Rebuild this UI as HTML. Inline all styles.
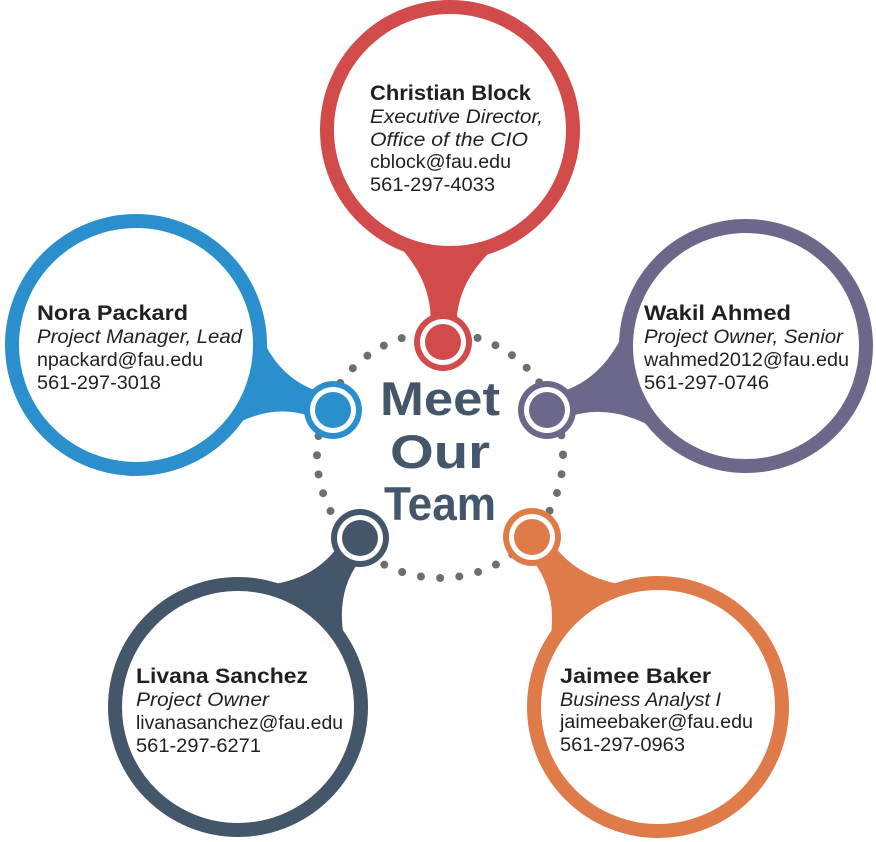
<!DOCTYPE html>
<html><head><meta charset="utf-8"><style>
html,body{margin:0;padding:0;background:#fff;}
svg{display:block;}
.n{font-family:"Liberation Sans",sans-serif;font-weight:bold;font-size:21px;fill:#231f20;}
.t{font-family:"Liberation Sans",sans-serif;font-style:italic;font-size:19px;fill:#231f20;}
.r{font-family:"Liberation Sans",sans-serif;font-size:19px;fill:#231f20;}
.m{font-family:"Liberation Sans",sans-serif;font-weight:bold;font-size:47px;fill:#44566a;}
</style></head><body>
<svg width="876" height="842" viewBox="0 0 876 842" xmlns="http://www.w3.org/2000/svg">
<circle cx="440" cy="455" r="123" fill="none" stroke="#6d6e71" stroke-width="8" stroke-linecap="round" stroke-dasharray="0 19.3"/>
<path d="M391.4,238.2 Q431.8,276.6 430.6,321.6 L456.6,322.4 Q457.8,277.4 501.4,241.8 Z" fill="#d04b4a"/>
<path d="M223.3,431.7 Q267.2,402 309.9,416.1 L318.1,391.3 Q275.4,377.3 257.7,327.1 Z" fill="#2a8fcc"/>
<path d="M626.4,326.6 Q604.9,377.7 562.1,391.5 L569.9,416.3 Q612.9,402.5 660,431.4 Z" fill="#6c6889"/>
<path d="M347,650 Q332.5,598.3 358.8,561.8 L337.8,546.6 Q311.5,583.1 257.8,585.6 Z" fill="#44566a"/>
<path d="M635.4,586.1 Q581.6,581.9 554.5,546.1 L533.7,561.8 Q560.9,597.7 547.8,652.5 Z" fill="#df7b48"/>
<circle cx="450" cy="130" r="123" fill="#fff" stroke="#d04b4a" stroke-width="14"/>
<circle cx="136" cy="345" r="124" fill="#fff" stroke="#2a8fcc" stroke-width="14"/>
<circle cx="746" cy="346" r="120" fill="#fff" stroke="#6c6889" stroke-width="14"/>
<circle cx="238" cy="707" r="123" fill="#fff" stroke="#44566a" stroke-width="14"/>
<circle cx="658" cy="707" r="124" fill="#fff" stroke="#df7b48" stroke-width="14"/>
<g><circle cx="443" cy="342" r="29" fill="#d04b4a"/><circle cx="443" cy="342" r="23" fill="#fff"/><circle cx="443" cy="342" r="18" fill="#d04b4a"/></g>
<g><circle cx="333" cy="410" r="29" fill="#2a8fcc"/><circle cx="333" cy="410" r="23" fill="#fff"/><circle cx="333" cy="410" r="18" fill="#2a8fcc"/></g>
<g><circle cx="547" cy="410" r="29" fill="#6c6889"/><circle cx="547" cy="410" r="23" fill="#fff"/><circle cx="547" cy="410" r="18" fill="#6c6889"/></g>
<g><circle cx="360" cy="538" r="29" fill="#44566a"/><circle cx="360" cy="538" r="23" fill="#fff"/><circle cx="360" cy="538" r="18" fill="#44566a"/></g>
<g><circle cx="532" cy="537" r="29" fill="#df7b48"/><circle cx="532" cy="537" r="23" fill="#fff"/><circle cx="532" cy="537" r="18" fill="#df7b48"/></g>
<text class="m" x="440" y="415" text-anchor="middle" textLength="120" lengthAdjust="spacingAndGlyphs">Meet</text>
<text class="m" x="440" y="468" text-anchor="middle" textLength="100" lengthAdjust="spacingAndGlyphs">Our</text>
<text class="m" x="440" y="520" text-anchor="middle" textLength="112" lengthAdjust="spacingAndGlyphs">Team</text>
<text class="n" x="370" y="100" textLength="161" lengthAdjust="spacingAndGlyphs">Christian Block</text>
<text class="t" x="370" y="123" textLength="173" lengthAdjust="spacingAndGlyphs">Executive Director,</text>
<text class="t" x="370" y="146" textLength="158" lengthAdjust="spacingAndGlyphs">Office of the CIO</text>
<text class="r" x="370" y="168" textLength="141" lengthAdjust="spacingAndGlyphs">cblock@fau.edu</text>
<text class="r" x="370" y="191" textLength="125" lengthAdjust="spacingAndGlyphs">561-297-4033</text>
<text class="n" x="37" y="320" textLength="151" lengthAdjust="spacingAndGlyphs">Nora Packard</text>
<text class="t" x="37" y="343" textLength="205" lengthAdjust="spacingAndGlyphs">Project Manager, Lead</text>
<text class="r" x="37" y="366" textLength="166" lengthAdjust="spacingAndGlyphs">npackard@fau.edu</text>
<text class="r" x="37" y="389" textLength="124" lengthAdjust="spacingAndGlyphs">561-297-3018</text>
<text class="n" x="644" y="320" textLength="147" lengthAdjust="spacingAndGlyphs">Wakil Ahmed</text>
<text class="t" x="644" y="343" textLength="199" lengthAdjust="spacingAndGlyphs">Project Owner, Senior</text>
<text class="r" x="644" y="366" textLength="205" lengthAdjust="spacingAndGlyphs">wahmed2012@fau.edu</text>
<text class="r" x="644" y="389" textLength="125" lengthAdjust="spacingAndGlyphs">561-297-0746</text>
<text class="n" x="136" y="683" textLength="172" lengthAdjust="spacingAndGlyphs">Livana Sanchez</text>
<text class="t" x="136" y="706" textLength="133" lengthAdjust="spacingAndGlyphs">Project Owner</text>
<text class="r" x="136" y="729" textLength="207" lengthAdjust="spacingAndGlyphs">livanasanchez@fau.edu</text>
<text class="r" x="136" y="752" textLength="125" lengthAdjust="spacingAndGlyphs">561-297-6271</text>
<text class="n" x="560" y="683" textLength="151" lengthAdjust="spacingAndGlyphs">Jaimee Baker</text>
<text class="t" x="560" y="706" textLength="161" lengthAdjust="spacingAndGlyphs">Business Analyst I</text>
<text class="r" x="560" y="728" textLength="193" lengthAdjust="spacingAndGlyphs">jaimeebaker@fau.edu</text>
<text class="r" x="560" y="751" textLength="125" lengthAdjust="spacingAndGlyphs">561-297-0963</text>
</svg>
</body></html>
